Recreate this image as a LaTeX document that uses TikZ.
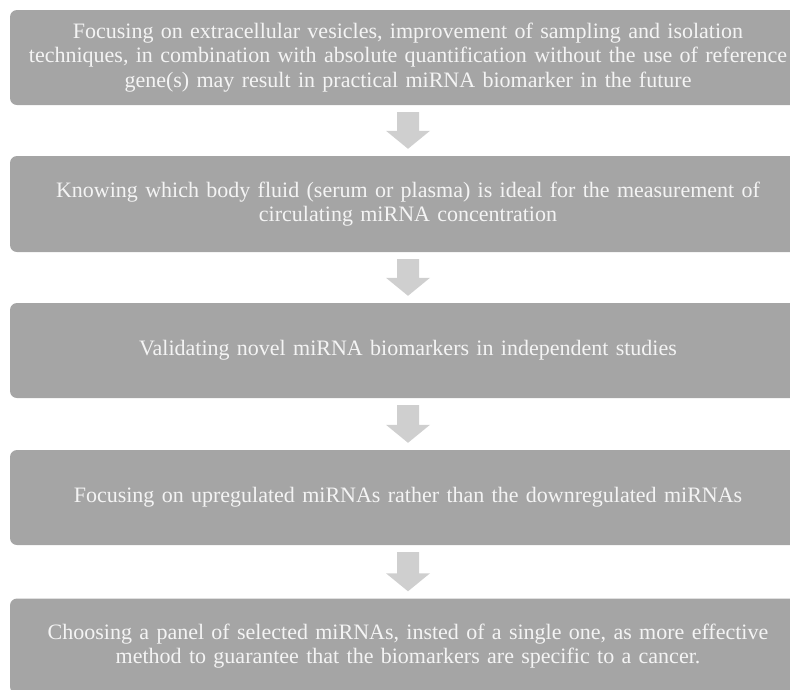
\documentclass[tikz,border=0pt]{standalone}
\usepackage{fontspec}
\setmainfont{Liberation Serif}
\usetikzlibrary{calc}
\definecolor{boxgray}{HTML}{A5A5A5}
\definecolor{arrowgray}{HTML}{CFCFCF}
\definecolor{txt}{HTML}{F4F4F4}
\tikzset{
  stepbox/.style={fill=boxgray, draw=none, rounded corners=7pt, minimum width=796pt,
    minimum height=95pt, text width=790pt, align=center, text=txt, inner sep=0pt,
    font=\fontsize{22}{24.5}\selectfont},
  flowarrow/.style={fill=arrowgray, draw=none}
}
\newcommand{\flowarr}[2]{%
  \path[flowarrow] ($(#1.south)+(-11pt,-7pt)$) -- ($(#1.south)+(11pt,-7pt)$)
    -- ($(#2.north)+(11pt,25pt)$) -- ($(#2.north)+(22pt,25pt)$)
    -- ($(#2.north)+(0pt,7pt)$) -- ($(#2.north)+(-22pt,25pt)$)
    -- ($(#2.north)+(-11pt,25pt)$) -- cycle;}
\begin{document}
\begin{tikzpicture}[x=1pt,y=-1pt]
\useasboundingbox (0,0) rectangle (790,689);
\clip (0,0) rectangle (790,689);
\node[stepbox] (b1) at (408,57.5) {Focusing on extracellular vesicles, improvement of sampling and isolation\\techniques, in combination with absolute quantification without the use of reference\\gene(s) may result in practical miRNA biomarker in the future};
\node[stepbox, minimum height=96pt] (b2) at (408,204) {Knowing which body fluid (serum or plasma) is ideal for the measurement of\\circulating miRNA concentration};
\node[stepbox] (b3) at (408,350.5) {Validating novel miRNA biomarkers in independent studies};
\node[stepbox] (b4) at (408,497.5) {Focusing on upregulated miRNAs rather than the downregulated miRNAs};
\node[stepbox] (b5) at (408,646) {Choosing a panel of selected miRNAs, insted of a single one, as more effective\\method to guarantee that the biomarkers are specific to a cancer.};
\flowarr{b1}{b2}
\flowarr{b2}{b3}
\flowarr{b3}{b4}
\flowarr{b4}{b5}
\end{tikzpicture}
\end{document}
